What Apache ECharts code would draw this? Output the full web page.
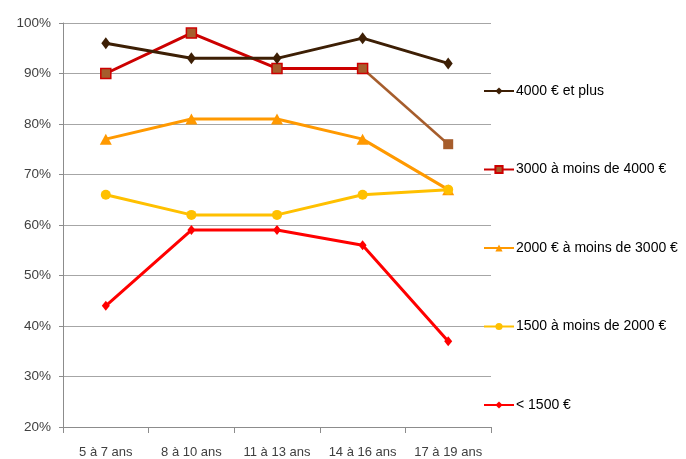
<!DOCTYPE html>
<html>
<head>
<meta charset="utf-8">
<script src="https://cdn.jsdelivr.net/npm/echarts@6/dist/echarts.min.js"></script>
<style>
  html, body { margin: 0; padding: 0; background: #fff; }
  #chart { width: 686px; height: 459px; }
</style>
</head>
<body>
<div id="chart"></div>
<script>
// Age groups on the category axis
const categories = ['5 à 7 ans', '8 à 10 ans', '11 à 13 ans', '14 à 16 ans', '17 à 19 ans'];

// Share (%) per monthly household income bracket
const income4000Plus = [96, 93, 93, 97, 92];
const income3000To4000 = [90, 98, 91, 91, 76];
const income2000To3000 = [77, 81, 81, 77, 67];
const income1500To2000 = [66, 62, 62, 66, 67];
const incomeBelow1500 = [44, 59, 59, 56, 37];

const seriesNames = [
  '4000 € et plus',
  '3000 à moins de 4000 €',
  '2000 € à moins de 3000 €',
  '1500 à moins de 2000 €',
  '< 1500 €'
];

const FONT = '"Liberation Sans", Arial, sans-serif';
const BROWN = '#a65d2c';

// The last stretch of the 3000–4000 € line is drawn in brown on top of the red one
const lastIdx = income3000To4000.length - 1;
const tailData = income3000To4000.map((v, i) => {
  if (i < lastIdx - 1) return null;
  if (i === lastIdx - 1) return { value: v, symbol: 'none' };
  return v;
});

const chart = echarts.init(document.getElementById('chart'), null, { renderer: 'canvas' });

chart.setOption({
  animation: false,
  backgroundColor: '#ffffff',
  grid: { left: 63, right: 195, top: 23, bottom: 32, containLabel: false },
  legend: {
    orient: 'vertical',
    left: 478,
    top: 79,
    itemWidth: 30,
    itemHeight: 9,
    itemGap: 64.5,
    data: seriesNames,
    textStyle: { fontFamily: FONT, fontSize: 14, color: '#000', padding: [0, 0, 0, -3] },
    selectedMode: false
  },
  xAxis: {
    type: 'category',
    data: categories,
    boundaryGap: true,
    axisLine: { lineStyle: { color: '#8c8c8c', width: 1 } },
    axisTick: { show: true, length: 6, lineStyle: { color: '#8c8c8c' } },
    axisLabel: { interval: 0, fontFamily: FONT, fontSize: 13, color: '#404040', margin: 19 }
  },
  yAxis: {
    type: 'value',
    min: 20,
    max: 100,
    interval: 10,
    axisLine: { show: true, lineStyle: { color: '#8c8c8c', width: 1 } },
    axisTick: { show: true, length: 4, lineStyle: { color: '#8c8c8c' } },
    splitLine: { lineStyle: { color: '#a6a6a6', width: 1 } },
    axisLabel: { fontFamily: FONT, fontSize: 13.5, color: '#404040', margin: 12, formatter: '{value}%' }
  },
  series: [
    {
      name: seriesNames[0],
      type: 'line',
      data: income4000Plus,
      symbol: 'diamond',
      symbolSize: [9, 12],
      lineStyle: { color: '#3d1f05', width: 3 },
      itemStyle: { color: '#3d1f05' },
      z: 5
    },
    {
      name: seriesNames[1],
      type: 'line',
      data: income3000To4000.map((v, i) => i === lastIdx ? null : v),
      connectNulls: false,
      symbol: 'rect',
      symbolSize: 10,
      lineStyle: { color: '#cc0000', width: 3 },
      itemStyle: { color: BROWN, borderColor: '#cc0000', borderWidth: 1.5 },
      z: 4
    },
    {
      name: 'tail-3000',
      type: 'line',
      data: tailData,
      symbol: 'rect',
      symbolSize: 10,
      lineStyle: { color: BROWN, width: 2.5 },
      itemStyle: { color: BROWN },
      z: 3
    },
    {
      name: seriesNames[2],
      type: 'line',
      data: income2000To3000,
      symbol: 'triangle',
      symbolSize: [12, 11],
      lineStyle: { color: '#ff9900', width: 3 },
      itemStyle: { color: '#ff9900' },
      z: 4
    },
    {
      name: seriesNames[3],
      type: 'line',
      data: income1500To2000,
      symbol: 'circle',
      symbolSize: 10,
      lineStyle: { color: '#ffc000', width: 3 },
      itemStyle: { color: '#ffc000' },
      z: 4
    },
    {
      name: seriesNames[4],
      type: 'line',
      data: incomeBelow1500,
      symbol: 'diamond',
      symbolSize: [8, 10],
      lineStyle: { color: '#ff0000', width: 3 },
      itemStyle: { color: '#ff0000' },
      z: 4
    }
  ]
});
</script>
</body>
</html>
